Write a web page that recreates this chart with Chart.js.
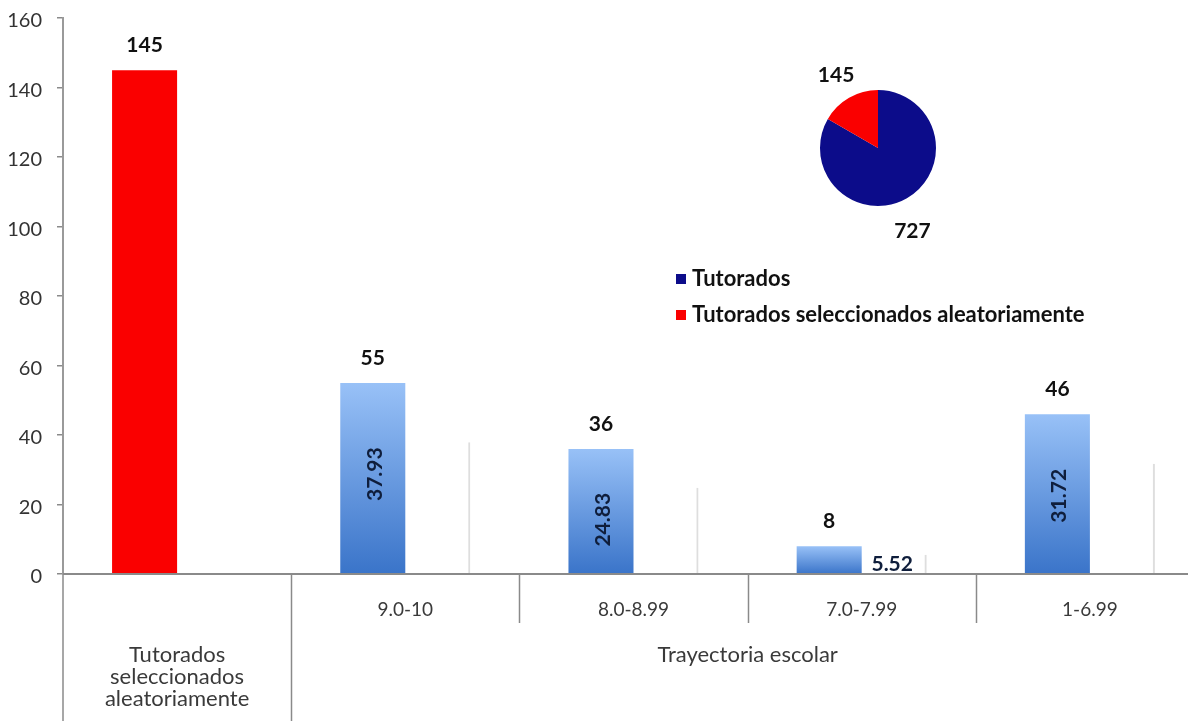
<!DOCTYPE html>
<html>
<head>
<meta charset="utf-8">
<script src="https://cdn.jsdelivr.net/npm/chart.js@4.4.1/dist/chart.umd.min.js"></script>
<style>
  html, body { margin:0; padding:0; background:#fff; overflow:hidden; }
  #wrap { position:relative; width:1188px; height:721px; overflow:hidden; }
  #barBox { position:absolute; left:0; top:0; width:1204px; height:721px; }
  #pieBox { position:absolute; left:758px; top:28px; width:240px; height:240px; }
</style>
</head>
<body>
<div id="wrap">
  <div id="barBox"><canvas id="barChart"></canvas></div>
  <div id="pieBox"><canvas id="pieChart"></canvas></div>
</div>
<script>
// ── data ──
const categories = ['Tutorados seleccionados aleatoriamente', '9.0-10', '8.0-8.99', '7.0-7.99', '1-6.99'];
const counts     = [145, 55, 36, 8, 46];
const percents   = [null, 37.93, 24.83, 5.52, 31.72];
const groupLabel = 'Trayectoria escolar';
const yMin = 0, yMax = 160, yStep = 20;
const pieLabels  = ['Tutorados', 'Tutorados seleccionados aleatoriamente'];
const pieValues  = [727, 145];

const FONT = 'Lato, "Open Sans", sans-serif';
const RED = '#fa0000', NAVY = '#0c0c8a';

function blueFill(ctx) {
  if (ctx.dataIndex === 0) return RED;
  const chart = ctx.chart, y = chart.scales.y;
  if (!chart.chartArea || !y) return '#5b8fdc';
  const top = y.getPixelForValue(ctx.raw), base = y.getPixelForValue(0);
  const g = chart.ctx.createLinearGradient(0, top, 0, base);
  g.addColorStop(0, '#98c1f7');
  g.addColorStop(1, '#3a74c9');
  return g;
}

const barDecor = {
  id: 'barDecor',
  afterDatasetsDraw(chart) {
    const { ctx, scales: { x, y } } = chart;
    const base = y.getPixelForValue(0);
    const m0 = chart.getDatasetMeta(0), m1 = chart.getDatasetMeta(1);
    ctx.save();
    // value labels above bars
    ctx.fillStyle = '#111';
    ctx.font = 'bold 21px ' + FONT;
    ctx.textAlign = 'center'; ctx.textBaseline = 'middle';
    m0.data.forEach((b, i) => ctx.fillText(String(counts[i]), b.x, b.y - 25));
    // percentage labels
    ctx.fillStyle = '#0f1e3c';
    ctx.font = 'bold 21px ' + FONT;
    m1.data.forEach((b, i) => {
      const v = percents[i];
      if (v == null) return;
      if (v < 10) {
        ctx.fillText(v.toFixed(2), b.x - 2, base - 10);
      } else {
        ctx.save();
        ctx.translate(m0.data[i].x + 2, y.getPixelForValue(v) + 32);
        ctx.rotate(-Math.PI / 2);
        ctx.fillText(v.toFixed(2), 0, 0);
        ctx.restore();
      }
    });
    // x axis with two-level categories
    const left = chart.chartArea.left, right = chart.chartArea.right, H = chart.height;
    const half = (x.getPixelForValue(1) - x.getPixelForValue(0)) / 2;
    ctx.strokeStyle = '#8a8a8a'; ctx.lineWidth = 2;
    ctx.beginPath(); ctx.moveTo(left, base); ctx.lineTo(right, base); ctx.stroke();
    ctx.lineWidth = 1.5;
    ctx.beginPath();
    ctx.moveTo(left, base); ctx.lineTo(left, H);
    categories.forEach((c, i) => {
      if (i === 0) return;
      const bx = Math.round(x.getPixelForValue(i) - half) + 0.5;
      ctx.moveTo(bx, base);
      ctx.lineTo(bx, i === 1 ? H : 623);
    });
    ctx.stroke();
    ctx.fillStyle = '#3a3a3a';
    categories.forEach((c, i) => {
      const cx = x.getPixelForValue(i);
      if (i === 0) {
        ctx.font = '22px ' + FONT;
        c.split(' ').forEach((w, k) => ctx.fillText(w, cx, 655 + k * 22));
      } else {
        ctx.font = '19px ' + FONT;
        ctx.fillText(c, cx, 610);
      }
    });
    const gx = (x.getPixelForValue(1) - half + right) / 2;
    ctx.font = '22px ' + FONT;
    ctx.fillText(groupLabel, gx, 655);
    // legend for the inset pie
    ctx.font = 'bold 22px ' + FONT;
    ctx.textAlign = 'left';
    [NAVY, RED].forEach((col, k) => {
      const ly = 279 + k * 36;
      ctx.fillStyle = col;
      ctx.fillRect(676, ly - 5, 10, 10);
      ctx.fillStyle = '#111';
      ctx.fillText(pieLabels[k], 692, ly);
    });
    ctx.restore();
  }
};

new Chart(document.getElementById('barChart'), {
  type: 'bar',
  data: {
    labels: categories,
    datasets: [
      { label: 'Tutorados', data: counts, backgroundColor: blueFill, borderWidth: 0,
        categoryPercentage: 0.57, barPercentage: 1 },
      { label: '%', data: percents, backgroundColor: 'rgba(255,255,255,0)',
        borderColor: '#dedede', borderWidth: { left: 0, right: 2, top: 0, bottom: 0 },
        borderSkipped: false, categoryPercentage: 0.57, barPercentage: 1 }
    ]
  },
  options: {
    responsive: true, maintainAspectRatio: false, animation: false,
    layout: { padding: { top: 18, bottom: 147, left: 0, right: 0 } },
    plugins: { legend: { display: false }, tooltip: { enabled: false } },
    scales: {
      x: { display: false },
      y: {
        min: yMin, max: yMax,
        afterFit: s => { s.width = 63; s.paddingTop = 0; s.paddingBottom = 0; },
        ticks: { stepSize: yStep, color: '#333', font: { size: 20, family: FONT }, padding: 15, labelOffset: 3 },
        grid: { drawOnChartArea: false, drawTicks: true, tickLength: 6, color: '#8a8a8a', lineWidth: 1.5 },
        border: { display: true, color: '#9a9a9a', width: 2 }
      }
    }
  },
  plugins: [barDecor]
});

const pieDecor = {
  id: 'pieDecor',
  afterDatasetsDraw(chart) {
    const { ctx } = chart;
    const meta = chart.getDatasetMeta(0);
    ctx.save();
    ctx.fillStyle = '#111';
    ctx.font = 'bold 21px ' + FONT;
    ctx.textAlign = 'center'; ctx.textBaseline = 'middle';
    const dist = [32, 26];
    meta.data.forEach((a, i) => {
      const mid = (a.startAngle + a.endAngle) / 2 + (i === 0 ? 0.13 : 0);
      const r = a.outerRadius + dist[i];
      ctx.fillText(String(pieValues[i]), a.x + Math.cos(mid) * r, a.y + Math.sin(mid) * r);
    });
    ctx.restore();
  }
};

new Chart(document.getElementById('pieChart'), {
  type: 'pie',
  data: { labels: pieLabels, datasets: [{ data: pieValues, backgroundColor: [NAVY, RED], borderWidth: 0 }] },
  options: {
    responsive: true, maintainAspectRatio: false, animation: false,
    layout: { padding: 62 },
    plugins: { legend: { display: false }, tooltip: { enabled: false } }
  },
  plugins: [pieDecor]
});
</script>
</body>
</html>
